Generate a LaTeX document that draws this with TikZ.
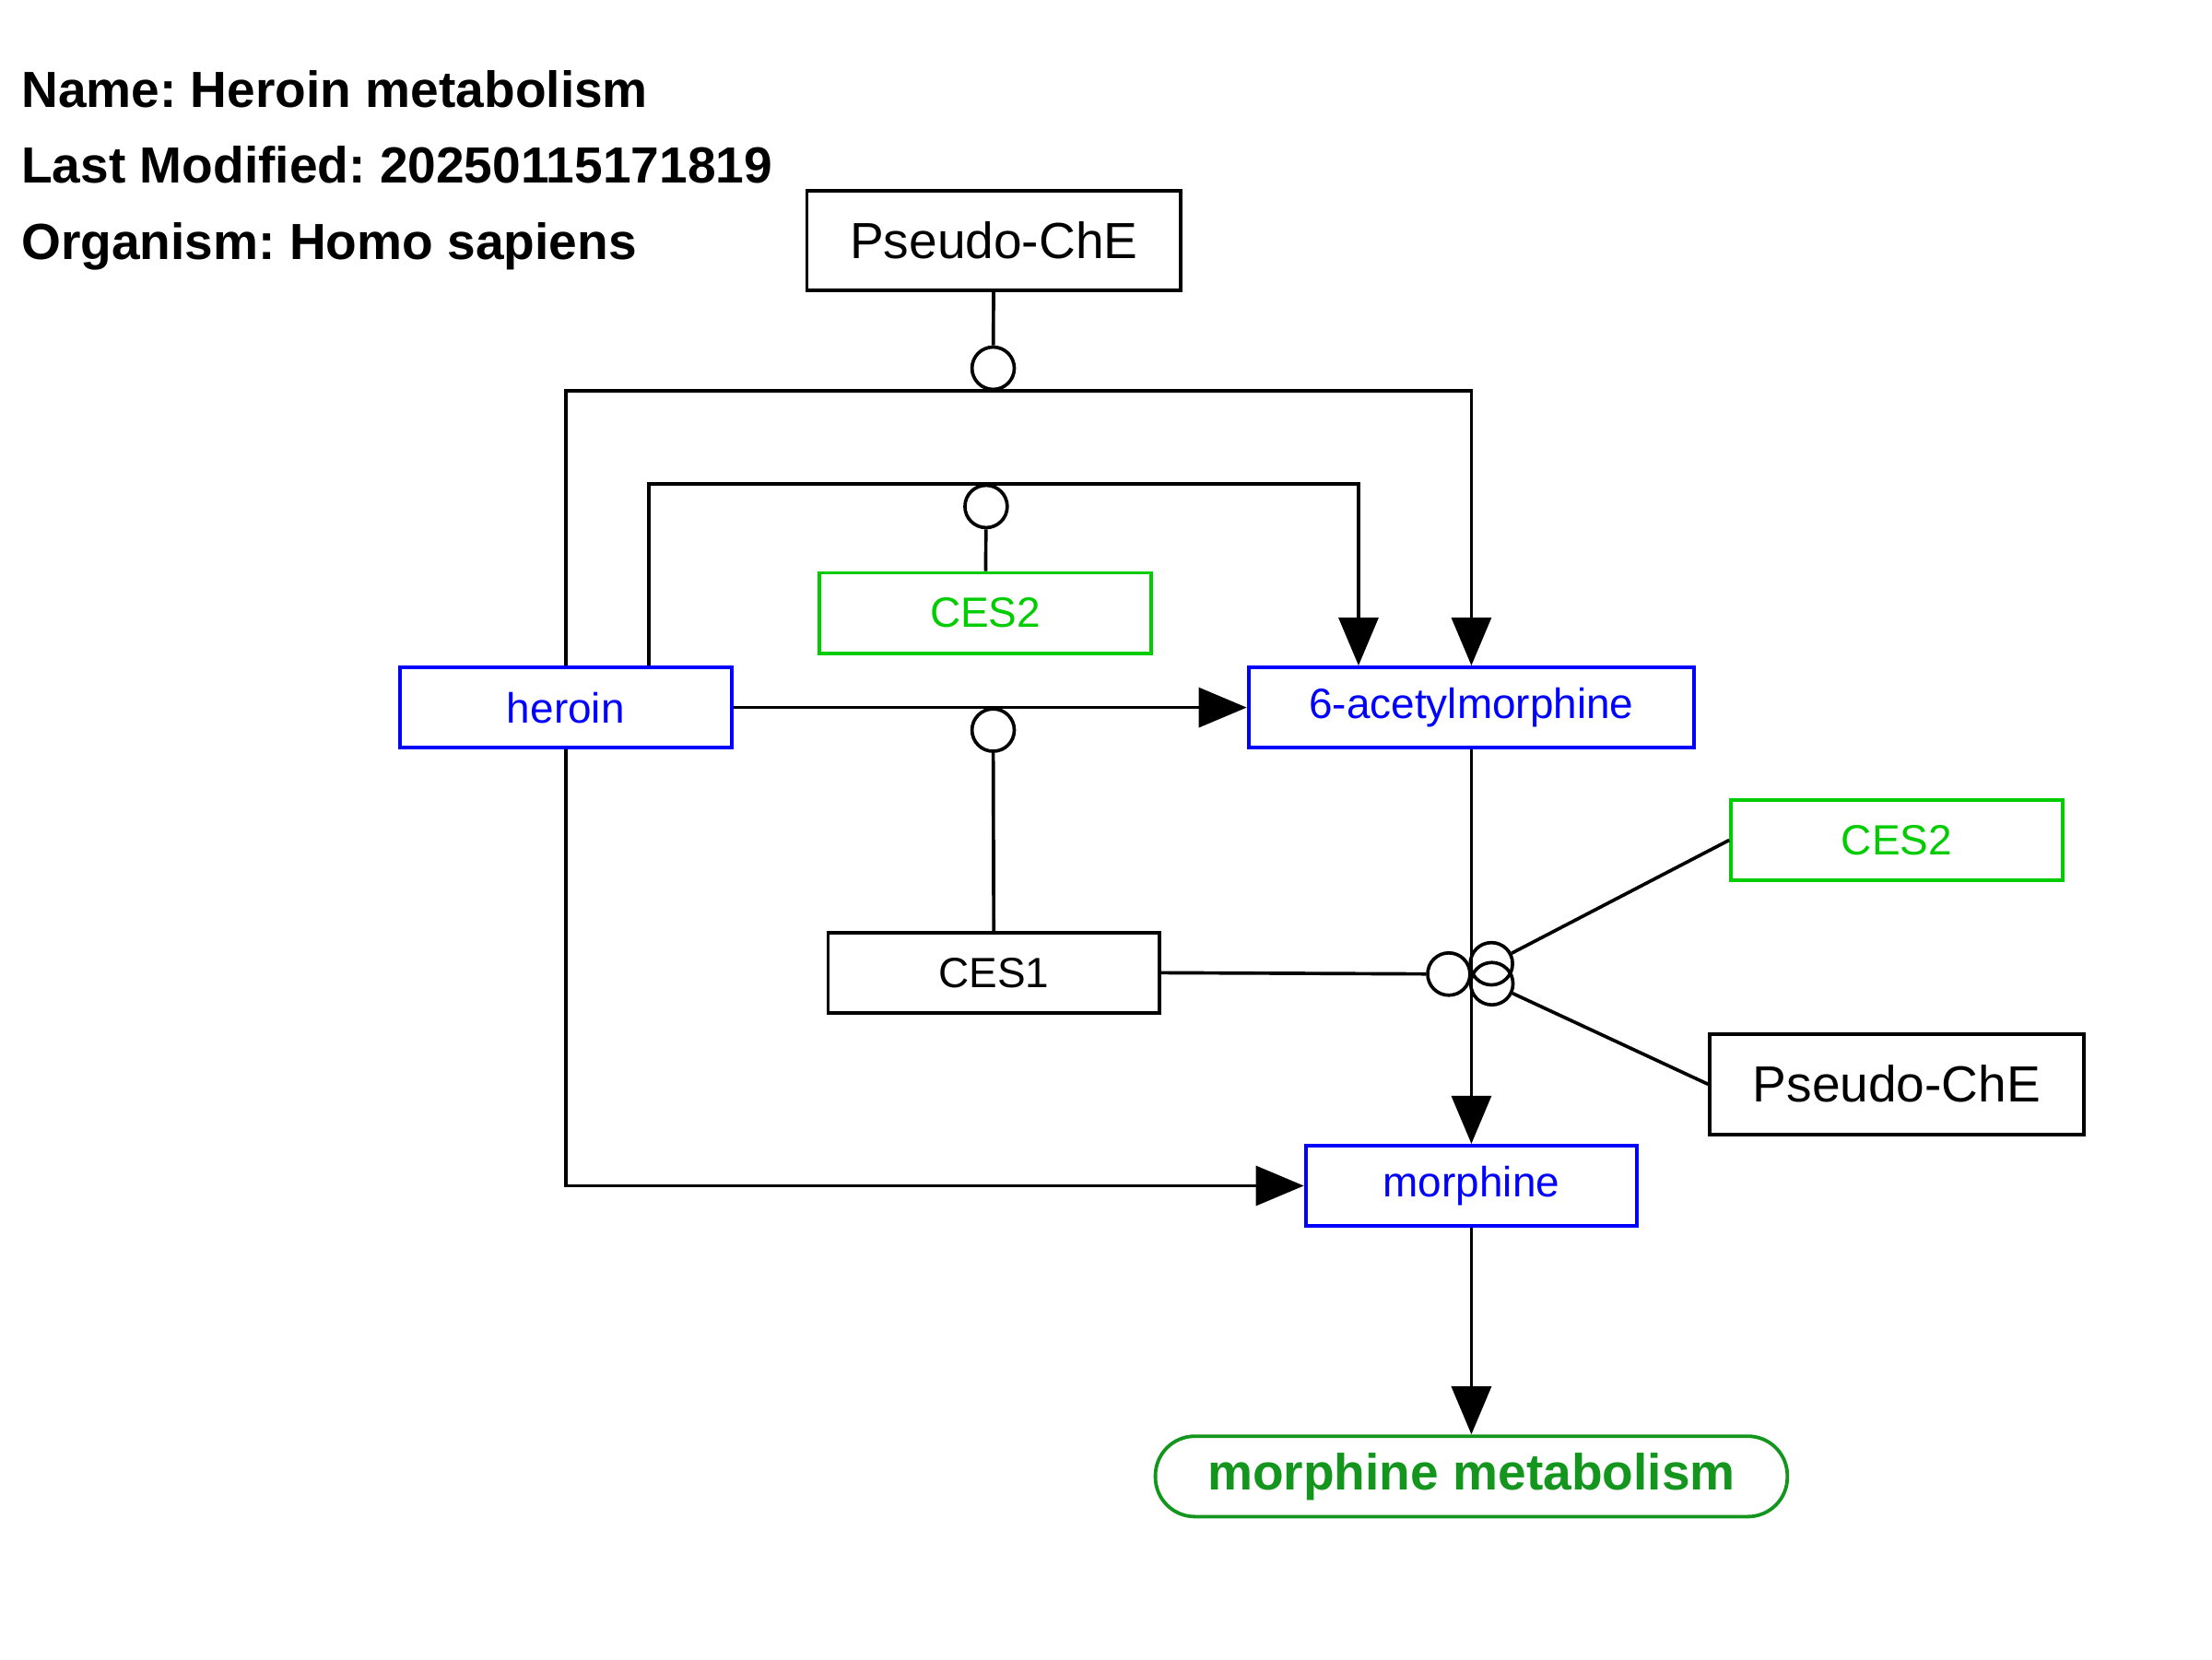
\documentclass[tikz,border=0pt]{standalone}
\usepackage{fontspec}
\setmainfont{Liberation Sans}
\frenchspacing
\usetikzlibrary{arrows.meta, positioning, calc}
\definecolor{metblue}{RGB}{0,0,255}
\definecolor{protgreen}{RGB}{0,204,0}
\definecolor{pwgreen}{RGB}{20,150,30}
\tikzset{%
	gene/.style={draw, rectangle, line width=2.5pt, minimum width=235pt, minimum height=57pt,%
		inner sep=0pt, font=\fontsize{30}{36}\selectfont},
	metab/.style={gene, draw=metblue, text=metblue},
	prot/.style={gene, draw=protgreen, text=protgreen},
	enzyme/.style={gene, minimum width=265pt, minimum height=71pt, font=\fontsize{36}{43}\selectfont},
	pathw/.style={draw=pwgreen, text=pwgreen, line width=2.5pt, rounded corners=28pt,%
		minimum width=448pt, minimum height=57pt, font=\fontsize{36}{43}\selectfont\bfseries},
	info/.style={anchor=base west, inner sep=0pt, font=\fontsize{36}{43}\selectfont\bfseries},
	conv/.style={line width=2.4pt, -{Triangle[length=34pt, width=28pt]}},
	link/.style={line width=2.4pt},
	catal/.style={draw, circle, line width=2.4pt, minimum size=30pt, inner sep=0pt}
}

\begin{document}
\begin{tikzpicture}[x=1pt, y=-1pt]
	\useasboundingbox (0,0) rectangle (1568,1176);
	%info
	\node [info] (name) at (15,76) {Name: Heroin metabolism};
	\node [info] (modified) at (15,130) {Last Modified: 20250115171819};
	\node [info] (organism) at (15,184) {Organism: Homo sapiens};

	%data nodes
	\node [enzyme] (pche1) at (704.5,170.5) {Pseudo-ChE};
	\node [prot] (ces2a) at (698.5,434.5) {CES2};
	\node [metab] (heroin) at (401,501.5) {heroin};
	\node [metab, minimum width=316pt] (acetyl) at (1043,501.5) {6-acetylmorphine};
	\node [prot] (ces2b) at (1344.5,595.5) {CES2};
	\node [gene] (ces1) at (704.5,689.5) {CES1};
	\node [enzyme] (pche2) at (1344.5,768.5) {Pseudo-ChE};
	\node [metab] (morphine) at (1043,840.5) {morphine};
	\node [pathw] (pathway) at (1043,1046.5) {morphine metabolism};

	%anchors on the conversions
	\coordinate (a1) at (704,277);
	\coordinate (a2) at (699,343);
	\coordinate (a3) at (704,501.5);
	\coordinate (a4) at (1043,690.5);

	%conversions
	\draw [conv] (heroin) -- (acetyl);
	\draw [conv] (heroin.north) |- (a1) -| (acetyl.north);
	\draw [conv] ($(heroin.north)+(59,0)$) |- (a2) -| ($(acetyl.north)+(-80,0)$);
	\draw [conv] (heroin.south) |- (morphine.west);
	\draw [conv] (acetyl) -- (morphine);
	\draw [conv] (morphine) -- (pathway);

	%catalysis
	\node [catal] (k1) at ($(a1)+(0,-16)$) {};
	\node [catal] (k2) at ($(a2)+(0,16)$) {};
	\node [catal] (k3) at ($(a3)+(0,16)$) {};
	\node [catal] (k4) at ($(a4)!16pt!(ces1.east)$) {};
	\node [catal] (k5) at ($(a4)!16pt!(ces2b.west)$) {};
	\node [catal] (k6) at ($(a4)!16pt!(pche2.west)$) {};
	\draw [link] (pche1) -- (k1);
	\draw [link] (ces2a) -- (k2);
	\draw [link] (ces1) -- (k3);
	\draw [link] (ces1.east) -- (k4);
	\draw [link] (ces2b.west) -- (k5);
	\draw [link] (pche2.west) -- (k6);
\end{tikzpicture}
\end{document}
